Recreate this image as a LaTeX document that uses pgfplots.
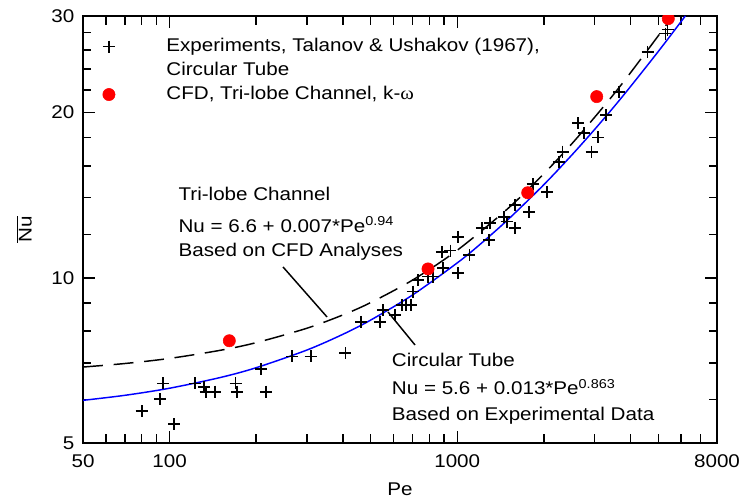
\documentclass[border=0pt]{standalone}
\usepackage{fontspec}
\setmainfont{Liberation Sans}[FakeStretch=1.12]
\newfontfamily\symfont{Liberation Serif}[FakeStretch=1.12]
\usepackage{pgfplots}
\pgfplotsset{compat=1.18}
\newcommand{\fs}{\fontsize{13.8}{16.5}\selectfont}
\begin{document}
\begin{tikzpicture}
\useasboundingbox (-62.25pt,-44.25pt) rectangle (504.75pt,332.25pt);
\begin{axis}[
  at={(0pt,0pt)}, anchor=south west,
  scale only axis, width=475.5pt, height=320.25pt,
  xmode=log, ymode=log,
  xmin=50, xmax=8000, ymin=5, ymax=30,
  xtick={50,100,1000,8000},
  xticklabels={\mbox{50},\mbox{100},\mbox{1000},\mbox{8000}},
  minor xtick={60,70,80,90,200,300,400,500,600,700,800,900,2000,3000,4000,5000,6000,7000},
  ytick={5,10,20,30},
  yticklabels={\mbox{5},\mbox{10},\mbox{20},\mbox{30}},
  minor ytick={6,7,8,9,12,14,16,18,22,24,26,28},
  tick align=inside,
  major tick length=9pt, minor tick length=6.4pt,
  every tick/.style={black, line width=1.1pt},
  axis line style={line width=1.7pt},
  tick label style={font=\fs},
  xticklabel style={yshift=-5pt},
  yticklabel style={xshift=-3pt},
  label style={font=\fs},
  xlabel={Pe},
  xlabel style={at={(axis description cs:0.5,-0.1077)}, anchor=center},
  ylabel={$\overline{\mbox{Nu}}$},
  ylabel style={at={(axis description cs:-0.0931,0.5)}, anchor=center},
  clip marker paths=true,
  legend image code/.code={\draw[#1] plot coordinates {(0pt,0pt)};},
  legend cell align=left,
  legend style={draw=none, fill=none, inner sep=0pt, font=\fs,
    at={(axis description cs:0.0308,0.9525)}, anchor=north west,
    nodes={inner sep=0pt, text height=11pt, text depth=4pt},
    row sep=3pt, column sep=38.5pt},
]
\addplot[blue, line width=1.1pt, smooth, forget plot] coordinates {
(50,5.980)(70,6.108)(100,6.292)(150,6.581)(200,6.858)(300,7.385)(400,7.888)(500,8.374)(700,9.308)(1000,10.645)(1200,11.505)(1500,12.762)(2000,14.780)(2500,16.73)(3000,18.625)(3500,20.47)(4000,22.30)(5000,25.85)(6000,29.30)(6210,30.02)};
\addplot[black, line width=1.1pt, dash pattern=on 15pt off 8pt, smooth, forget plot] coordinates {
(50,6.877)(70,6.980)(100,7.131)(150,7.377)(200,7.619)(300,8.092)(400,8.556)(500,9.012)(700,9.908)(1000,11.225)(1500,13.372)(2000,15.475)(2500,17.54)(3000,19.60)(3500,21.60)(4000,23.63)(5000,27.61)(5614,30.01)};
\addplot[only marks, mark=+, mark size=4.5pt, black, line width=1.3pt] coordinates {
(80.0,5.71)(92.8,6.01)(94.9,6.42)(103.6,5.41)(122.3,6.42)(131.7,6.32)(133.5,6.20)(143.5,6.20)
(169.5,6.42)(171.5,6.20)(207.9,6.82)(216.4,6.20)(267.1,7.19)(309.4,7.19)(408.4,7.29)
(463,8.31)(537.6,8.31)(550.9,8.73)(607.6,8.55)(641,8.92)(663.5,8.92)(690.6,8.92)(700,9.44)
(732,9.91)(793.4,10.05)(825.6,10.05)(894.4,10.41)(884.9,11.14)(947.4,11.21)(1006,10.19)
(1009,11.88)(1102,11.00)(1217,12.31)(1300,12.60)(1293,11.72)(1454,12.89)(1486,12.66)
(1588,12.31)(1588,13.57)(1781,13.20)(1830,14.82)(2052,14.34)(2254,16.26)(2323,16.98)
(2636,19.12)(2760,18.34)(2930,16.98)(3086,18.02)(3298,19.80)(3659,21.81)(4587,25.80)
(5296,27.87)(5383,28.34)};
\addlegendentry{Experiments, Talanov \& Ushakov (1967),}
\addlegendimage{empty legend}
\addlegendentry{Circular Tube}
\addplot[only marks, mark=*, mark size=4.6pt, red, draw=red, fill=red] coordinates {
(161.3,7.68)(791.6,10.38)(1758,14.29)(3054,21.39)(5417,29.67)};
\addlegendentry{CFD, Tri-lobe Channel, k-{\symfont ω}}
\draw[line width=1.1pt] (rel axis cs:0.3155,0.4122) -- (rel axis cs:0.3849,0.2951);
\draw[line width=1.1pt] (rel axis cs:0.4811,0.3068) -- (rel axis cs:0.5237,0.2295);
\node[anchor=base west, font=\fs, inner sep=0pt] at (rel axis cs:0.1503,0.5674) {Tri-lobe Channel};
\node[anchor=base west, font=\fs, inner sep=0pt] at (rel axis cs:0.1503,0.4925) {Nu = 6.6 + 0.007*Pe\textsuperscript{0.94}};
\node[anchor=base west, font=\fs, inner sep=0pt] at (rel axis cs:0.1503,0.4379) {Based on CFD Analyses};
\node[anchor=base west, font=\fs, inner sep=0pt] at (rel axis cs:0.4869,0.1803) {Circular Tube};
\node[anchor=base west, font=\fs, inner sep=0pt] at (rel axis cs:0.4869,0.1124) {Nu = 5.6 + 0.013*Pe\textsuperscript{0.863}};
\node[anchor=base west, font=\fs, inner sep=0pt] at (rel axis cs:0.4869,0.0522) {Based on Experimental Data};
\end{axis}
\end{tikzpicture}
\end{document}
